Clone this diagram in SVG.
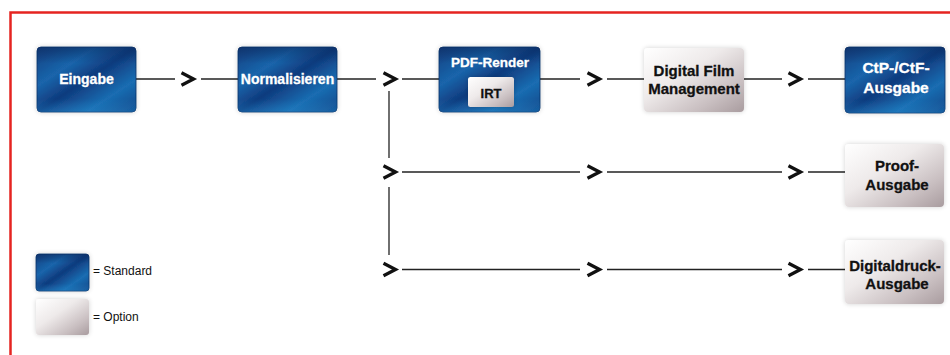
<svg xmlns="http://www.w3.org/2000/svg" width="950" height="355" viewBox="0 0 950 355">
  <defs>
    <linearGradient id="blue" x1="0" y1="0" x2="1" y2="1">
      <stop offset="0" stop-color="#123f80"/>
      <stop offset="0.3" stop-color="#1a65ab"/>
      <stop offset="0.5" stop-color="#0f3b7e"/>
      <stop offset="0.75" stop-color="#1a6db2"/>
      <stop offset="1" stop-color="#0f4688"/>
    </linearGradient>
    <linearGradient id="blueEdge" x1="0" y1="0" x2="0" y2="1">
      <stop offset="0" stop-color="#0a2a5e" stop-opacity="0.55"/>
      <stop offset="0.25" stop-color="#0a2a5e" stop-opacity="0"/>
      <stop offset="0.8" stop-color="#2a8fd0" stop-opacity="0"/>
      <stop offset="1" stop-color="#2a8fd0" stop-opacity="0.35"/>
    </linearGradient>
    <linearGradient id="grey" x1="0" y1="0" x2="1" y2="1">
      <stop offset="0" stop-color="#ffffff"/>
      <stop offset="0.4" stop-color="#eeeaea"/>
      <stop offset="0.75" stop-color="#c9bfc1"/>
      <stop offset="1" stop-color="#a99c9f"/>
    </linearGradient>
    <filter id="glow" x="-20%" y="-20%" width="140%" height="140%">
      <feGaussianBlur in="SourceAlpha" stdDeviation="2.5"/>
      <feComponentTransfer><feFuncA type="linear" slope="0.18"/></feComponentTransfer>
      <feMerge><feMergeNode/><feMergeNode in="SourceGraphic"/></feMerge>
    </filter>
    <path id="chev" d="M1.5,-6.2 L13.5,0 L1.5,6.2"/>
  </defs>
  <style>
    .std { fill: url(#blue); stroke: #0c3268; stroke-width: 0.8; filter: url(#glow); }
    .stdo { fill: url(#blueEdge); stroke: none; }
    .opt { fill: url(#grey); stroke: none; filter: url(#glow); }
    .lw { font-family: "Liberation Sans", Arial, sans-serif; font-weight: bold; fill: #ffffff; stroke: #ffffff; stroke-width: 0.3; text-anchor: middle; }
    .lb { font-family: "Liberation Sans", Arial, sans-serif; font-weight: bold; fill: #111111; stroke: #111111; stroke-width: 0.3; text-anchor: middle; }
    .leg { font-family: "Liberation Sans", Arial, sans-serif; font-size: 12px; fill: #111111; }
    .ln { stroke: #222222; stroke-width: 1.3; fill: none; }
    .ch { stroke: #111111; stroke-width: 3.3; fill: none; stroke-linejoin: miter; }
  </style>

  <path d="M10.5,355 V12.5 H950" fill="none" stroke="#e52421" stroke-width="2.5"/>

  <g id="connectors">
    <g class="ln">
      <line x1="136" y1="79" x2="175" y2="79"/>
      <line x1="201" y1="79" x2="238" y2="79"/>
      <line x1="337" y1="79" x2="376" y2="79"/>
      <line x1="402" y1="79" x2="439" y2="79"/>
      <line x1="540" y1="79" x2="580" y2="79"/>
      <line x1="607" y1="79" x2="644" y2="79"/>
      <line x1="744" y1="79" x2="782" y2="79"/>
      <line x1="808" y1="79" x2="845" y2="79"/>
      <line x1="389" y1="91" x2="389" y2="158"/>
      <line x1="389" y1="187" x2="389" y2="255"/>
      <line x1="402" y1="172" x2="580" y2="172"/>
      <line x1="607" y1="172" x2="782" y2="172"/>
      <line x1="808" y1="172" x2="845" y2="172"/>
      <line x1="402" y1="269.5" x2="580" y2="269.5"/>
      <line x1="607" y1="269.5" x2="782" y2="269.5"/>
      <line x1="808" y1="269.5" x2="845" y2="269.5"/>
    </g>
    <g class="ch">
      <use href="#chev" x="180" y="79"/>
      <use href="#chev" x="382" y="79"/>
      <use href="#chev" x="586" y="79"/>
      <use href="#chev" x="787" y="79"/>
      <use href="#chev" x="382" y="172"/>
      <use href="#chev" x="586" y="172"/>
      <use href="#chev" x="787" y="172"/>
      <use href="#chev" x="382" y="269.5"/>
      <use href="#chev" x="586" y="269.5"/>
      <use href="#chev" x="787" y="269.5"/>
    </g>
  </g>

  <g id="eingabe">
    <rect class="std" x="37" y="47" width="99" height="65" rx="4"/>
    <rect class="stdo" x="37" y="47" width="99" height="65" rx="4"/>
    <text class="lw" x="86.5" y="84" font-size="14">Eingabe</text>
  </g>
  <g id="normalisieren">
    <rect class="std" x="238" y="47" width="99" height="65" rx="4"/>
    <rect class="stdo" x="238" y="47" width="99" height="65" rx="4"/>
    <text class="lw" x="287.5" y="84" font-size="14">Normalisieren</text>
  </g>
  <g id="pdf-render">
    <rect class="std" x="439" y="47" width="101" height="65" rx="4"/>
    <rect class="stdo" x="439" y="47" width="101" height="65" rx="4"/>
    <text class="lw" x="490" y="67" font-size="13.5">PDF-Render</text>
    <g id="irt">
      <rect class="opt" x="468" y="77" width="46" height="30" rx="2.5"/>
      <text class="lb" x="491" y="98" font-size="13">IRT</text>
    </g>
  </g>
  <g id="digital-film">
    <rect class="opt" x="644" y="48" width="100" height="64" rx="4"/>
    <text class="lb" x="694" y="76" font-size="15">Digital Film</text>
    <text class="lb" x="694" y="94" font-size="15">Management</text>
  </g>
  <g id="ctp">
    <rect class="std" x="845" y="47" width="100" height="66" rx="4"/>
    <rect class="stdo" x="845" y="47" width="100" height="66" rx="4"/>
    <text class="lw" x="896" y="73" font-size="15.5">CtP-/CtF-</text>
    <text class="lw" x="896" y="93" font-size="15.5">Ausgabe</text>
  </g>
  <g id="proof">
    <rect class="opt" x="845" y="144" width="99" height="63" rx="4"/>
    <text class="lb" x="897" y="171" font-size="15">Proof-</text>
    <text class="lb" x="897" y="190" font-size="15">Ausgabe</text>
  </g>
  <g id="digitaldruck">
    <rect class="opt" x="845" y="240" width="99" height="64" rx="4"/>
    <text class="lb" x="895" y="271" font-size="15">Digitaldruck-</text>
    <text class="lb" x="897" y="289" font-size="15">Ausgabe</text>
  </g>

  <g id="legend">
    <g id="legend-standard">
      <rect class="std" x="36" y="254" width="53" height="37" rx="3"/>
      <rect class="stdo" x="36" y="254" width="53" height="37" rx="3"/>
      <text class="leg" x="93" y="275">= Standard</text>
    </g>
    <g id="legend-option">
      <rect class="opt" x="36" y="299" width="53" height="36" rx="3"/>
      <text class="leg" x="93" y="321">= Option</text>
    </g>
  </g>
</svg>
